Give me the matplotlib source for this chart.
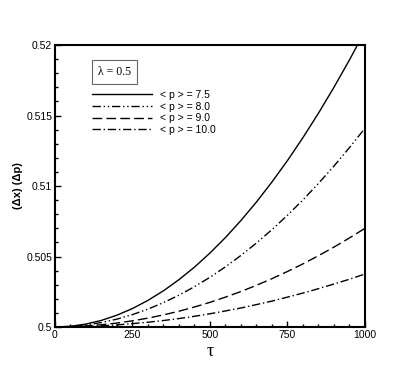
import matplotlib
matplotlib.use("Agg")
from matplotlib import pyplot as plt
from matplotlib.ticker import MultipleLocator

# values
tau = [0, 50, 100, 150, 200, 250, 300, 350, 400, 450, 500,
       550, 600, 650, 700, 750, 800, 850, 900, 950, 1000]
p75 = [0.5, 0.50005, 0.50021, 0.50047, 0.50084, 0.50131, 0.50189, 0.50257, 0.50336, 0.50425, 0.50525,
       0.50635, 0.50756, 0.50887, 0.51029, 0.51181, 0.51344, 0.51517, 0.51701, 0.51895, 0.52100]
p80 = [0.5, 0.50004, 0.50014, 0.50032, 0.50056, 0.50088, 0.50127, 0.50173, 0.50226, 0.50286, 0.50353,
       0.50427, 0.50508, 0.50596, 0.50691, 0.50793, 0.50902, 0.51019, 0.51142, 0.51273, 0.51410]
p90 = [0.5, 0.50002, 0.50007, 0.50016, 0.50028, 0.50044, 0.50063, 0.50086, 0.50112, 0.50142, 0.50175,
       0.50212, 0.50252, 0.50296, 0.50343, 0.50394, 0.50448, 0.50506, 0.50567, 0.50632, 0.50700]
p100 = [0.5, 0.50001, 0.50004, 0.50008, 0.50015, 0.50024, 0.50034, 0.50046, 0.50060, 0.50076, 0.50094,
        0.50114, 0.50135, 0.50159, 0.50184, 0.50212, 0.50241, 0.50272, 0.50305, 0.50339, 0.50376]
labels = ["< p > = 7.5", "< p > = 8.0", "< p > = 9.0", "< p > = 10.0"]

plt.rcParams['font.family'] = ['Liberation Sans', 'DejaVu Sans']

fig = plt.figure(figsize=(4.15, 3.7), dpi=100)
ax = fig.add_axes([0.1325, 0.1162, 0.747, 0.762])

ax.plot(tau, p75, color='k', lw=1.0, ls='-', label=labels[0])
ax.plot(tau, p80, color='k', lw=1.0, ls=(0, (6, 2, 1, 2, 1, 2)), label=labels[1])
ax.plot(tau, p90, color='k', lw=1.0, ls=(0, (7, 3)), label=labels[2])
ax.plot(tau, p100, color='k', lw=1.0, ls=(0, (6, 2, 1, 2)), label=labels[3])

ax.set_xlim(0, 1000)
ax.set_ylim(0.5, 0.52)
ax.xaxis.set_minor_locator(MultipleLocator(50))
ax.yaxis.set_minor_locator(MultipleLocator(0.001))
ax.set_xticks([0, 250, 500, 750, 1000])
ax.set_xticklabels(["0", "250", "500", "750", "1000"])
ax.set_yticks([0.5, 0.505, 0.51, 0.515, 0.52])
ax.set_yticklabels(["0.5", "0.505", "0.51", "0.515", "0.52"])
ax.tick_params(which='both', direction='in', top=False, right=False,
               labelsize=7.5, width=1, pad=2)
ax.tick_params(which='major', length=4)
ax.tick_params(which='minor', length=2.5)
for s in ax.spines.values():
    s.set_linewidth(1.5)

ax.set_xlabel("τ", family=['Liberation Serif'], fontsize=13, labelpad=2)
ax.set_ylabel("(Δx) (Δp)", fontsize=8, fontweight='bold', labelpad=2)

ax.text(0.14, 0.905, "λ = 0.5", transform=ax.transAxes, family=['Liberation Serif'],
        fontsize=8.5, va='center', ha='left',
        bbox=dict(boxstyle='square,pad=0.5', fc='white', ec='0.4', lw=0.8))

ax.legend(loc='upper left', bbox_to_anchor=(0.105, 0.855), frameon=False,
          fontsize=7.5, handlelength=5.8, handletextpad=0.8, labelspacing=0.15,
          borderaxespad=0)

fig.savefig("out.png", dpi=100)
